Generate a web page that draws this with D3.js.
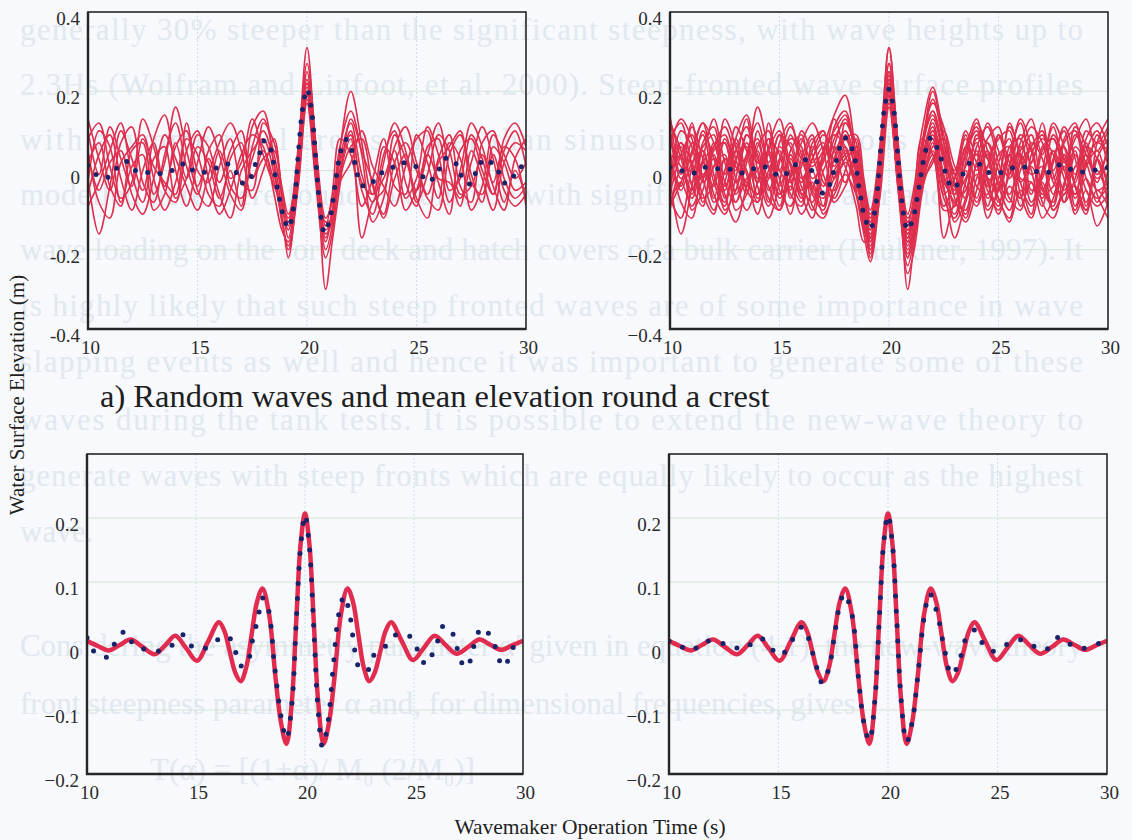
<!DOCTYPE html>
<html>
<head>
<meta charset="utf-8">
<title>Random waves and mean elevation round a crest</title>
<script src="https://cdn.jsdelivr.net/npm/d3@7"></script>
<style>
  html, body { margin: 0; padding: 0; background: #f7f9fc; }
  svg { display: block; font-family: "Liberation Serif", "DejaVu Serif", serif; }
  .bleed { fill: #e1e8f0; font-size: 31px; }
  .tick text { font-size: 19px; fill: #2a2a2a; font-family: "Liberation Serif", "DejaVu Serif", serif; }
  .title { fill: #1e1e1e; }
</style>
</head>
<body>
<svg id="chart" width="1132" height="840"></svg>
<script>

/*
 * Wave records round a focused crest.
 */

// Time axis shared by the random runs (s).
var runTime = [10, 10.5, 11, 11.5, 12, 12.5, 13, 13.5, 14, 14.5, 15, 15.5, 16, 16.5, 17, 17.5, 18, 18.5,
  18.85, 19.15, 19.6, 20, 20.4, 20.85, 21.15, 21.5,
  22, 22.5, 23, 23.5, 24, 24.5, 25, 25.5, 26, 26.5, 27, 27.5, 28, 28.5, 29, 29.5, 30];

// Random runs shown in both upper panels (m).
var runsLeft = [
  [0.13, 0.03, -0.05, 0.07, 0.11, -0.03, -0.08, 0.04, 0.12, 0.01, -0.06, 0.05, 0.09, -0.04, -0.07, 0.03, 0.10, 0.02,
   -0.09, -0.15, 0.03, 0.23, 0.02, -0.17, -0.10, 0.03,
   0.12, -0.01, -0.08, 0.04, 0.10, -0.03, -0.09, 0.06, 0.08, -0.05, -0.02, 0.09, 0.03, -0.06, 0.05, 0.10, 0.01],
  [0.05, -0.08, -0.12, 0.02, 0.06, 0.09, -0.02, -0.10, -0.03, 0.08, 0.04, -0.06, -0.09, 0.03, 0.07, -0.02, 0.05, -0.03,
   -0.12, -0.20, -0.04, 0.18, 0.00, -0.13, -0.12, -0.02,
   0.06, 0.08, -0.04, -0.11, 0.02, 0.07, 0.00, -0.07, -0.10, 0.04, 0.09, -0.01, -0.08, 0.06, 0.02, -0.05, -0.03],
  [-0.02, -0.16, -0.04, 0.10, 0.03, -0.05, 0.08, 0.14, 0.00, -0.09, 0.02, 0.11, 0.04, -0.06, -0.10, 0.06, 0.13, 0.04,
   -0.06, -0.13, 0.06, 0.31, 0.05, -0.20, -0.14, 0.05,
   0.20, 0.07, -0.06, -0.02, 0.05, -0.07, -0.02, 0.11, 0.04, -0.08, 0.00, 0.12, 0.06, -0.04, -0.10, 0.03, 0.08],
  [0.08, 0.12, 0.01, -0.07, -0.03, 0.13, 0.06, -0.05, -0.08, 0.05, 0.10, -0.02, -0.11, -0.05, 0.04, 0.09, 0.06, -0.06,
   -0.15, -0.18, -0.02, 0.20, -0.03, -0.22, -0.16, -0.01,
   0.08, -0.17, -0.08, -0.05, 0.06, 0.11, 0.02, -0.06, 0.03, 0.09, -0.04, -0.08, 0.07, 0.10, -0.02, -0.07, -0.04],
  [-0.06, 0.04, 0.09, -0.02, -0.10, 0.00, 0.07, -0.04, 0.06, 0.10, -0.05, -0.09, 0.01, 0.08, -0.03, -0.05, 0.12, 0.07,
   -0.04, -0.11, 0.02, 0.21, 0.06, -0.12, -0.08, 0.06,
   0.15, 0.04, -0.13, -0.07, 0.09, 0.03, -0.05, 0.04, 0.12, 0.00, -0.09, 0.05, -0.02, -0.10, 0.02, 0.07, 0.05],
  [0.02, 0.07, -0.04, -0.09, 0.05, 0.07, -0.06, 0.02, 0.16, 0.05, -0.04, 0.03, -0.06, -0.12, 0.00, 0.05, 0.08, -0.01,
   -0.11, -0.22, -0.01, 0.19, -0.01, -0.18, -0.11, 0.00,
   0.10, -0.03, -0.06, 0.06, 0.02, -0.10, -0.05, 0.04, -0.03, -0.11, 0.05, 0.08, 0.00, -0.06, 0.08, 0.12, 0.06],
  [-0.09, -0.03, 0.05, 0.12, -0.01, -0.08, 0.03, 0.06, -0.07, -0.02, 0.09, 0.06, -0.03, 0.05, 0.10, -0.02, 0.03, 0.05,
   -0.07, -0.17, 0.01, 0.25, 0.04, -0.16, -0.13, 0.02,
   0.09, -0.05, -0.11, 0.02, 0.12, 0.05, -0.07, -0.12, 0.02, 0.06, 0.10, -0.03, -0.06, 0.04, -0.05, -0.09, -0.06],
  [0.04, -0.05, 0.02, 0.05, -0.06, -0.11, -0.02, 0.09, 0.03, -0.04, -0.10, -0.01, 0.07, 0.12, 0.05, -0.07, 0.00, 0.08,
   -0.05, -0.14, 0.04, 0.22, 0.01, -0.14, -0.06, 0.08,
   0.04, -0.09, -0.02, 0.08, -0.04, -0.06, 0.09, 0.02, -0.07, 0.07, 0.03, -0.10, -0.04, 0.09, 0.04, -0.02, 0.02],
  [-0.03, 0.10, 0.06, -0.08, 0.01, 0.04, -0.10, -0.06, 0.07, -0.02, 0.06, 0.02, -0.07, 0.00, -0.09, 0.11, 0.15, 0.01,
   -0.13, -0.19, -0.03, 0.17, -0.02, -0.15, -0.12, -0.03,
   0.02, 0.10, 0.01, -0.04, -0.09, 0.01, 0.08, 0.10, -0.02, -0.03, -0.07, 0.02, 0.11, 0.03, -0.08, 0.00, -0.07],
  [0.10, -0.01, 0.11, 0.03, -0.04, 0.08, 0.01, -0.03, -0.06, 0.12, 0.00, -0.03, 0.05, -0.02, 0.02, 0.13, 0.04, -0.04,
   -0.08, -0.12, 0.05, 0.27, 0.07, -0.30, -0.18, -0.04,
   0.13, 0.05, -0.03, -0.12, -0.02, 0.04, -0.08, -0.01, 0.09, 0.05, -0.06, -0.04, 0.04, -0.03, 0.06, 0.03, -0.09]
];

// Further runs, upper right panel only (m).
var runsExtra = [
  [0.12, 0.05, -0.07, 0.03, 0.13, 0.02, -0.05, 0.09, 0.04, -0.08, 0.07, 0.12, -0.01, -0.10, 0.05, 0.14, 0.19, 0.03,
   -0.10, -0.18, 0.00, 0.22, 0.03, -0.16, -0.09, 0.06,
   0.14, 0.02, -0.09, 0.05, 0.11, -0.02, -0.11, 0.01, 0.13, 0.06, -0.05, 0.03, 0.10, -0.04, -0.11, 0.07, 0.13],
  [-0.07, -0.12, 0.01, 0.09, -0.03, -0.09, 0.05, 0.00, -0.08, 0.04, -0.02, -0.11, 0.03, 0.09, -0.06, -0.02, 0.06, -0.05,
   -0.16, -0.23, -0.05, 0.19, -0.04, -0.21, -0.15, -0.03,
   0.05, -0.07, -0.12, -0.03, 0.04, -0.09, 0.02, 0.08, -0.06, -0.12, -0.01, 0.05, -0.08, -0.02, 0.07, -0.06, -0.12],
  [0.06, 0.13, 0.08, -0.02, 0.06, 0.11, 0.03, -0.06, 0.10, 0.02, 0.09, -0.05, 0.10, 0.04, -0.04, 0.08, 0.12, 0.05,
   -0.03, -0.10, 0.07, 0.31, 0.08, -0.11, -0.04, 0.10,
   0.21, 0.09, 0.00, 0.10, 0.04, 0.12, 0.05, -0.02, 0.07, 0.13, 0.04, 0.11, 0.02, 0.08, 0.13, 0.05, 0.10],
  [-0.01, 0.04, -0.10, -0.05, 0.07, -0.06, -0.13, -0.04, 0.05, -0.07, -0.10, 0.04, -0.04, -0.08, 0.03, 0.06, 0.01, -0.09,
   -0.18, -0.17, 0.02, 0.24, 0.00, -0.26, -0.20, -0.06,
   0.07, -0.04, -0.17, -0.08, -0.01, -0.12, -0.04, 0.04, -0.09, -0.03, -0.12, -0.07, 0.01, -0.11, -0.05, -0.14, -0.08],
  [0.09, -0.02, 0.04, 0.12, 0.07, -0.01, 0.11, 0.05, -0.03, 0.06, 0.13, 0.01, -0.05, 0.07, 0.10, 0.01, 0.08, 0.09,
   -0.02, -0.12, 0.05, 0.20, 0.05, -0.13, -0.07, 0.07,
   0.17, 0.11, -0.01, 0.06, 0.13, 0.03, 0.09, 0.01, 0.05, 0.11, 0.07, -0.02, 0.08, 0.12, 0.01, 0.09, 0.02],
  [-0.05, 0.07, 0.02, -0.06, -0.11, 0.03, 0.00, 0.07, -0.04, -0.12, -0.03, 0.08, 0.06, -0.09, -0.12, -0.04, 0.02, -0.02,
   -0.12, -0.16, -0.02, 0.21, 0.02, -0.18, -0.16, -0.05,
   0.03, 0.06, -0.07, -0.13, -0.05, 0.05, -0.04, -0.10, 0.00, 0.05, -0.08, -0.12, -0.03, 0.05, -0.09, 0.03, -0.04],
  [0.03, -0.04, 0.07, -0.01, 0.03, -0.04, 0.05, 0.11, 0.02, 0.01, -0.06, -0.02, 0.08, 0.02, 0.06, 0.03, 0.09, 0.00,
   -0.09, -0.14, 0.01, 0.23, 0.01, -0.15, -0.10, 0.01,
   0.10, 0.03, -0.05, 0.01, 0.07, -0.04, 0.04, 0.06, -0.03, 0.02, 0.08, 0.04, -0.05, 0.01, 0.04, -0.01, 0.05],
  [-0.10, 0.00, -0.06, 0.05, -0.07, 0.03, -0.08, -0.02, 0.00, 0.08, -0.07, -0.04, -0.08, 0.06, -0.01, -0.08, -0.04, 0.02,
   -0.07, -0.20, -0.06, 0.16, -0.02, -0.17, -0.10, 0.02,
   0.11, -0.02, -0.08, -0.10, 0.01, -0.05, -0.10, -0.04, -0.07, 0.01, -0.05, -0.09, 0.03, -0.07, -0.02, -0.08, 0.00],
  [0.07, 0.03, 0.12, -0.03, 0.01, 0.07, -0.03, 0.04, 0.08, -0.05, 0.03, 0.07, -0.02, 0.03, 0.09, 0.05, -0.03, 0.04,
   -0.05, -0.17, 0.04, 0.27, 0.06, -0.22, -0.15, 0.04,
   0.18, 0.07, -0.01, -0.07, 0.08, 0.07, -0.02, 0.12, 0.03, -0.06, 0.06, 0.08, 0.00, 0.11, 0.06, -0.03, 0.07],
  [-0.04, 0.06, -0.03, 0.02, -0.08, -0.03, 0.08, -0.01, -0.11, 0.00, 0.05, -0.07, 0.02, -0.05, -0.09, 0.00, 0.04, 0.06,
   -0.11, -0.15, 0.00, 0.19, -0.01, -0.19, -0.13, -0.01,
   0.08, -0.06, -0.02, 0.03, -0.07, 0.01, -0.03, -0.08, 0.04, -0.01, 0.01, -0.06, 0.04, -0.09, 0.01, 0.05, -0.05],
  [0.14, 0.01, 0.00, 0.06, 0.09, -0.07, 0.02, 0.13, -0.02, 0.05, 0.00, 0.09, 0.03, 0.01, 0.05, 0.10, 0.14, 0.02,
   -0.08, -0.13, 0.03, 0.25, 0.04, -0.14, -0.11, 0.05,
   0.15, 0.04, -0.04, 0.09, 0.00, 0.08, 0.11, -0.01, 0.06, 0.02, 0.12, 0.00, 0.06, -0.01, 0.10, 0.07, 0.11],
  [-0.08, -0.03, -0.09, -0.02, 0.04, -0.10, -0.05, 0.03, -0.06, -0.01, -0.09, 0.00, -0.06, -0.03, -0.11, -0.06, -0.01, -0.06,
   -0.14, -0.21, -0.03, 0.20, -0.04, -0.24, -0.17, -0.04,
   0.04, -0.10, -0.09, 0.00, -0.08, -0.02, -0.07, -0.13, -0.05, -0.09, -0.03, -0.10, -0.06, -0.04, -0.10, -0.05, -0.09]
];

// Mean elevation round the crest, left hand record (m).
var meanLeftTime = [10.0, 10.3, 10.85, 11.3, 11.75, 12.2, 12.7, 13.25, 13.7, 14.0, 14.45, 14.85, 15.4, 16.0, 16.45,
  16.8, 17.0, 17.3, 17.6, 17.85, 18.05, 18.3, 18.6, 18.9, 19.15, 19.4, 19.6, 19.8, 20.0, 20.2, 20.4, 20.6, 20.8,
  21.05, 21.3, 21.55, 21.8, 22.05, 22.3, 22.55, 22.9, 23.2, 23.7, 24.25, 24.9, 25.2, 25.55, 25.85, 26.1, 26.37,
  26.75, 26.95, 27.15, 27.45, 27.65, 27.85, 28.1, 28.55, 28.8, 29.07, 29.4, 29.7, 30.0];
var meanLeftEta = [0.013, -0.008, -0.018, 0.005, 0.023, -0.001, -0.005, -0.008, -0.003, 0.004, 0.018, -0.002, -0.004,
  0.01, 0.016, -0.008, -0.03, -0.03, 0.01, 0.045, 0.075, 0.06, -0.03, -0.11, -0.145, -0.09, 0.04, 0.155, 0.205,
  0.155, 0.03, -0.1, -0.157, -0.12, -0.03, 0.05, 0.078, 0.05, -0.01, -0.038, -0.037, -0.012, 0.0, 0.019, 0.013,
  -0.009, -0.029, -0.012, 0.009, 0.032, 0.021, 0.0, -0.024, -0.034, -0.012, 0.011, 0.029, 0.013, -0.008, -0.033,
  -0.017, 0.008, 0.009];

// Mean elevation round the crest, right hand record (m).
var meanRightTime = [10.0, 10.5, 11.05, 11.6, 12.2, 12.8, 13.3, 13.8, 14.2, 14.7, 15.1, 15.6, 16.1, 16.6, 17.0,
  17.3, 17.55, 17.8, 18.0, 18.35, 18.65, 18.9, 19.15, 19.4, 19.6, 19.8, 20.0, 20.2, 20.4, 20.6, 20.85, 21.1, 21.35,
  21.65, 21.9, 22.25, 22.55, 22.9, 23.2, 23.6, 23.95, 24.3, 24.7, 25.1, 25.5, 26.0, 26.5, 26.9, 27.3, 27.8, 28.3,
  28.8, 29.3, 29.7, 30.0];
var meanRightEta = [0.008, 0.0, -0.007, 0.008, 0.004, 0.003, -0.006, 0.004, 0.012, -0.005, -0.015, 0.008, 0.03,
  -0.015, -0.058, -0.035, 0.015, 0.065, 0.082, 0.05, -0.05, -0.12, -0.148, -0.085, 0.04, 0.16, 0.205, 0.16, 0.04,
  -0.085, -0.15, -0.12, -0.05, 0.045, 0.082, 0.05, 0.0, -0.045, -0.03, 0.015, 0.025, 0.005, -0.008, -0.005, 0.004,
  0.01, 0.004, -0.006, -0.004, 0.014, 0.003, -0.004, 0.0, 0.005, 0.007];

// New-wave profile (m).
var theoryTime = [10.0, 10.5, 11.0, 11.5, 12.0, 12.55, 13.1, 13.6, 14.05, 14.55, 15.05, 15.55, 16.05, 16.3, 16.55,
  16.8, 17.05, 17.3, 17.55, 17.8, 18.05, 18.35, 18.65, 18.9, 19.15, 19.4, 19.6, 19.8, 20.0, 20.2, 20.4, 20.6,
  20.85, 21.1, 21.35, 21.65, 21.95, 22.2, 22.45, 22.7, 22.95, 23.2, 23.45, 23.7, 23.95, 24.45, 24.95, 25.45,
  25.95, 26.45, 26.95, 27.5, 28.0, 28.5, 29.0, 29.5, 30.0];
var theoryEta = [0.008, 0.0, -0.007, 0.0015, 0.010, -0.0015, -0.013, 0.0015, 0.016, -0.0035, -0.023, 0.007, 0.037,
  0.0235, -0.009, -0.0415, -0.055, -0.034, 0.0175, 0.069, 0.09, 0.05, -0.05, -0.12, -0.153, -0.085, 0.04, 0.16,
  0.207, 0.16, 0.04, -0.085, -0.153, -0.12, -0.05, 0.05, 0.09, 0.069, 0.0175, -0.034, -0.055, -0.0415, -0.009,
  0.0235, 0.037, 0.007, -0.022, -0.003, 0.016, 0.0015, -0.012, -0.001, 0.010, 0.002, -0.006, 0.001, 0.008];

// Ticks and grid.
var xTicks = [10, 15, 20, 25, 30];
var xGrid = [15, 20, 25];
var topTicks = [-0.4, -0.2, 0, 0.2, 0.4];
var topGrid = [-0.2, 0, 0.2];
var bottomTicks = [-0.2, -0.1, 0, 0.1, 0.2];
var bottomGrid = [-0.1, 0, 0.1, 0.2];

// Titles.
var yTitle = 'Water Surface Elevation (m)';
var xTitle = 'Wavemaker Operation Time (s)';
var caption = 'a) Random waves and mean elevation round a crest';

// Page text showing through the scan.
var bleedLines = [
  'generally 30% steeper than the significant steepness, with wave heights up to',
  '2.3Hs (Wolfram and Linfoot, et al. 2000). Steep-fronted wave surface profiles',
  'with asymmetrical crests rather than sinusoidal distributions of the crest',
  'modelled here were found to coincide with significant green water and slamming',
  'wave loading on the fore deck and hatch covers of a bulk carrier (Faulkner, 1997). It',
  'is highly likely that such steep fronted waves are of some importance in wave',
  'slapping events as well and hence it was important to generate some of these',
  'waves during the tank tests. It is possible to extend the new-wave theory to',
  'generate waves with steep fronts which are equally likely to occur as the highest',
  'wave.',
  'Considering the asymmetry parameter α′ given in equation (4.1), the new-wave theory',
  'front steepness parameter α and, for dimensional frequencies, gives',
  'T(α) = [(1+α)/ M₀ (2/M₀)]'
];

/*
 * Layout.
 */

var svg = d3.select('#chart');

var bleedBase = [40, 95, 150, 205, 260, 316, 372, 430, 486, 542, 656, 714, 780];
var bleedX = [20, 20, 20, 20, 20, 20, 20, 20, 20, 20, 20, 20, 150];
var bleedFull = [true, true, true, true, true, true, true, true, true, false, true, false, false];

var panels = [
  { id: 'tl', left: 88, top: 12, width: 438, height: 317, yDomain: [-0.4, 0.4], yTicks: topTicks,
    yGrid: topGrid, runs: runsLeft, meanTime: meanLeftTime, meanEta: meanLeftEta, dotGap: 12.5, minus: '-' },
  { id: 'tr', left: 670, top: 12, width: 438, height: 317, yDomain: [-0.4, 0.4], yTicks: topTicks,
    yGrid: topGrid, runs: runsLeft.concat(runsExtra), meanTime: meanRightTime, meanEta: meanRightEta,
    dotGap: 12.5, minus: '\u2212' },
  { id: 'bl', left: 87, top: 454, width: 436, height: 320, yDomain: [-0.2, 0.3], yTicks: bottomTicks,
    yGrid: bottomGrid, theory: true, meanTime: meanLeftTime, meanEta: meanLeftEta, dotGap: 15, minus: '\u2212' },
  { id: 'br', left: 669, top: 454, width: 438, height: 320, yDomain: [-0.2, 0.3], yTicks: bottomTicks,
    yGrid: bottomGrid, theory: true, meanTime: meanRightTime, meanEta: meanRightEta, dotGap: 15, minus: '\u2212' }
];

/*
 * Faint text from the page behind.
 */
svg.append('g').selectAll('text')
  .data(bleedLines)
  .enter().append('text')
  .attr('class', 'bleed')
  .attr('x', function(d, i) { return bleedX[i]; })
  .attr('y', function(d, i) { return bleedBase[i]; })
  .attr('textLength', function(d, i) { return bleedFull[i] ? 1063 : null; })
  .attr('lengthAdjust', 'spacing')
  .text(function(d) { return d; });

/*
 * Draw one panel.
 *
 * @param {Object} p: Panel layout and series.
 *
 * @return void.
 */
function drawPanel(p) {

  var g = svg.append('g')
    .attr('transform', 'translate(' + p.left + ',' + p.top + ')');

  var x = d3.scaleLinear().domain([10, 30]).range([0, p.width]);
  var y = d3.scaleLinear().domain(p.yDomain).range([p.height, 0]);

  g.append('clipPath').attr('id', 'clip-' + p.id)
    .append('rect').attr('width', p.width).attr('height', p.height);

  // Grid.
  g.selectAll('line.hgrid').data(p.yGrid).enter().append('line')
    .attr('class', 'hgrid')
    .attr('x1', 0).attr('x2', p.width)
    .attr('y1', y).attr('y2', y)
    .attr('stroke', '#d5e4d6').attr('stroke-width', 1);
  g.selectAll('line.vgrid').data(xGrid).enter().append('line')
    .attr('class', 'vgrid')
    .attr('x1', x).attr('x2', x)
    .attr('y1', 0).attr('y2', p.height)
    .attr('stroke', '#cbdfe4').attr('stroke-width', 1)
    .attr('stroke-dasharray', '2,2');

  var line = d3.line()
    .x(function(d) { return x(d[0]); })
    .y(function(d) { return y(d[1]); })
    .curve(d3.curveCatmullRom.alpha(0.5));

  var plot = g.append('g').attr('clip-path', 'url(#clip-' + p.id + ')');

  // Random runs.
  if (p.runs) {
    plot.selectAll('path.run').data(p.runs).enter().append('path')
      .attr('class', 'run')
      .attr('d', function(r) { return line(d3.zip(runTime, r)); })
      .attr('fill', 'none')
      .attr('stroke', '#de2f4e')
      .attr('stroke-width', 1.6);
  }

  // Theory.
  if (p.theory) {
    plot.append('path')
      .attr('d', line(d3.zip(theoryTime, theoryEta)))
      .attr('fill', 'none')
      .attr('stroke', '#e22c4f')
      .attr('stroke-width', 4.5)
      .attr('stroke-linejoin', 'round');
  }

  // Mean, dotted.
  plot.append('path')
    .attr('d', line(d3.zip(p.meanTime, p.meanEta)))
    .attr('fill', 'none')
    .attr('stroke', '#17246b')
    .attr('stroke-width', 5)
    .attr('stroke-linecap', 'round')
    .attr('stroke-dasharray', '0,' + p.dotGap);

  // Axes.
  var fmt = function(d) { return d < 0 ? p.minus + Math.abs(d) : String(d); };

  var yAxis = g.append('g')
    .call(d3.axisLeft(y).tickValues(p.yTicks).tickSize(0).tickPadding(8).tickFormat(fmt));
  yAxis.attr('font-family', null).attr('font-size', null);
  yAxis.select('.domain').remove();
  yAxis.selectAll('text').attr('dy', '0.66em');

  var xAxis = g.append('g')
    .attr('transform', 'translate(0,' + p.height + ')')
    .call(d3.axisBottom(x).tickValues(xTicks).tickSize(0).tickPadding(12).tickFormat(d3.format('d')));
  xAxis.attr('font-family', null).attr('font-size', null);
  xAxis.select('.domain').remove();
  xAxis.selectAll('text').attr('dx', 2);

  // Frame.
  g.append('rect')
    .attr('width', p.width).attr('height', p.height)
    .attr('fill', 'none')
    .attr('stroke', '#262626')
    .attr('stroke-width', 1.6);
  g.append('path')
    .attr('d', 'M0,0V' + p.height + 'H' + p.width)
    .attr('fill', 'none')
    .attr('stroke', '#262626')
    .attr('stroke-width', 2.4);
}

panels.forEach(drawPanel);

/*
 * Titles.
 */
svg.append('text')
  .attr('class', 'title')
  .attr('transform', 'translate(17,395) rotate(-90)')
  .attr('text-anchor', 'middle')
  .attr('dy', '0.35em')
  .style('font-size', '21px')
  .text(yTitle);

svg.append('text')
  .attr('class', 'title')
  .attr('x', 590).attr('y', 834)
  .attr('text-anchor', 'middle')
  .style('font-size', '21.5px')
  .text(xTitle);

svg.append('text')
  .attr('class', 'title')
  .attr('x', 100).attr('y', 407)
  .style('font-size', '32.5px')
  .text(caption);

</script>
</body>
</html>
